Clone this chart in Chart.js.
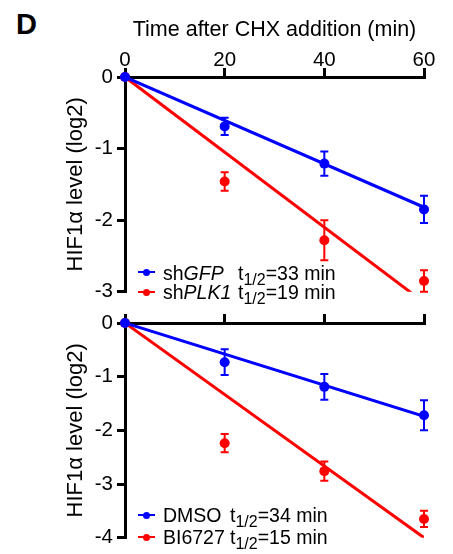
<!DOCTYPE html>
<html>
<head>
<meta charset="utf-8">
<script src="https://cdn.jsdelivr.net/npm/chart.js@4.4.0/dist/chart.umd.min.js"></script>
<style>
  body { margin: 0; background: #fff; }
  #wrap { position: relative; width: 453px; height: 554px; background: #fff; font-family: "Liberation Sans", Arial, sans-serif; color: #000; }
  canvas { position: absolute; left: 0; }
  #panel-label { position: absolute; left: 16px; top: 7px; font-size: 29px; font-weight: bold; line-height: 34px; }
  .leg-row { position: absolute; font-size: 19.5px; line-height: 20px; white-space: nowrap; }
  .leg-row .name { display: inline-block; }
  .leg-row sub { font-size: 16px; vertical-align: -5px; line-height: 0; }
  .mk-line { position: absolute; height: 2px; width: 17px; }
  .mk-dot { position: absolute; width: 7px; height: 7px; border-radius: 50%; }
</style>
</head>
<body>
<div id="wrap">
  <div id="panel-label">D</div>
  <canvas id="chartTop" width="453" height="308" style="top:0"></canvas>
  <canvas id="chartBottom" width="453" height="254" style="top:300px"></canvas>
</div>
<script>
// time points (min)
const times = [0, 20, 40, 60];
const xTicks = [0, 20, 40, 60];
const yTicksTop = [-3, -2, -1, 0];
const yTicksBottom = [-4, -3, -2, -1, 0];

// top panel: shGFP vs shPLK1
const gfpMean = [0, -0.69, -1.21, -1.85];
const gfpErr = [0, 0.12, 0.17, 0.19];
const plkMean = [0, -1.46, -2.28, -2.85];
const plkErr = [0, 0.13, 0.28, 0.15];
const gfpFit = [0, -1.82];
const plkFit = [0, -3.15];

// bottom panel: DMSO vs BI6727
const dmsoMean = [0, -0.73, -1.19, -1.72];
const dmsoErr = [0, 0.24, 0.24, 0.28];
const biMean = [0, -2.24, -2.76, -3.65];
const biErr = [0, 0.17, 0.18, 0.15];
const dmsoFit = [0, -1.74];
const biFit = [0, -4.0];
const fitTimes = [0, 60];

const BLUE = "#0000ff";
const RED = "#ff0000";
const FONT = "'Liberation Sans', Arial, sans-serif";

// error bars with caps, drawn after the datasets
const errorBars = {
  id: "errorBars",
  afterDatasetsDraw(chart) {
    const { ctx, scales } = chart;
    chart.data.datasets.forEach((ds) => {
      if (!ds.errors) return;
      ctx.save();
      ctx.strokeStyle = ds.backgroundColor;
      ctx.lineWidth = 2;
      ds.data.forEach((pt, i) => {
        const e = ds.errors[i];
        if (!e) return;
        const x = scales.x.getPixelForValue(pt.x);
        const y1 = scales.y.getPixelForValue(pt.y + e);
        const y2 = scales.y.getPixelForValue(pt.y - e);
        ctx.beginPath();
        ctx.moveTo(x, y1); ctx.lineTo(x, y2);
        ctx.moveTo(x - 4, y1); ctx.lineTo(x + 4, y1);
        ctx.moveTo(x - 4, y2); ctx.lineTo(x + 4, y2);
        ctx.stroke();
      });
      ctx.restore();
    });
  },
};

function pointsSet(vals, errs, color, order) {
  return {
    data: times.map((t, i) => ({ x: t, y: vals[i] })),
    errors: errs,
    showLine: false,
    pointRadius: 5,
    pointBackgroundColor: color,
    backgroundColor: color,
    pointBorderWidth: 0,
    clip: false,
    order: order,
  };
}

function fitSet(vals, color, order) {
  return {
    data: fitTimes.map((t, i) => ({ x: t, y: vals[i] })),
    borderColor: color,
    borderWidth: 3,
    pointRadius: 0,
    order: order,
  };
}

function makeChart(id, datasets, yTicks, opts) {
  return new Chart(document.getElementById(id), {
    type: "line",
    data: { datasets },
    plugins: [errorBars],
    options: {
      responsive: false,
      animation: false,
      devicePixelRatio: 1,
      layout: { padding: { left: 0, right: 29, top: 0, bottom: 15 } },
      plugins: { legend: { display: false }, tooltip: { enabled: false } },
      scales: {
        x: {
          type: "linear",
          position: "top",
          min: 0,
          max: 60,
          afterBuildTicks: (s) => { s.ticks = xTicks.map((v) => ({ value: v })); },
          ticks: {
            display: opts.xLabels,
            autoSkip: false,
            maxRotation: 0,
            color: "#000",
            padding: -5,
            font: { family: FONT, size: 20.5 },
            callback: (v) => String(v),
          },
          grid: { drawOnChartArea: false, drawTicks: true, tickLength: 9, lineWidth: 3, color: "#000" },
          border: { display: true, color: "#000", width: 3 },
          title: {
            display: opts.xLabels,
            text: "Time after CHX addition (min)",
            color: "#000",
            font: { family: FONT, size: 21.5 },
            padding: { top: 17, bottom: 0 },
          },
          afterFit: (s) => { s.height = opts.top; },
        },
        y: {
          type: "linear",
          position: "left",
          min: yTicks[0],
          max: yTicks[yTicks.length - 1],
          afterBuildTicks: (s) => { s.ticks = yTicks.map((v) => ({ value: v })); },
          ticks: {
            autoSkip: false,
            color: "#000",
            padding: 4,
            font: { family: FONT, size: 20.5 },
            callback: (v) => String(v),
          },
          grid: { drawOnChartArea: false, drawTicks: true, tickLength: 8, lineWidth: 3, color: "#000" },
          border: { display: true, color: "#000", width: 3 },
          title: {
            display: true,
            text: "HIF1\u03b1 level (log2)",
            color: "#000",
            font: { family: FONT, size: 22 },
            padding: { top: 63, bottom: 0 },
          },
          afterFit: (s) => { s.width = 125; },
        },
      },
    },
  });
}

makeChart("chartTop", [
  pointsSet(gfpMean, gfpErr, BLUE, 0),
  pointsSet(plkMean, plkErr, RED, 1),
  fitSet(gfpFit, BLUE, 2),
  fitSet(plkFit, RED, 3),
], yTicksTop, { xLabels: true, top: 77 });

makeChart("chartBottom", [
  pointsSet(dmsoMean, dmsoErr, BLUE, 0),
  pointsSet(biMean, biErr, RED, 1),
  fitSet(dmsoFit, BLUE, 2),
  fitSet(biFit, RED, 3),
], yTicksBottom, { xLabels: false, top: 23 });

// legends (HTML so that italics and subscripts stay real text)
const legendRows = [
  { color: BLUE, pre: "sh", it: "GFP", half: 33, base: 280, mark: 272.3, col: 75 },
  { color: RED, pre: "sh", it: "PLK1", half: 19, base: 299, mark: 292.3, col: 75 },
  { color: BLUE, pre: "DMSO", it: "", half: 34, base: 521.7, mark: 515, col: 67 },
  { color: RED, pre: "BI6727", it: "", half: 15, base: 544, mark: 537.3, col: 67 },
];
const wrap = document.getElementById("wrap");
legendRows.forEach((r) => {
  const line = document.createElement("div");
  line.className = "mk-line";
  line.style.cssText = `left:138px;top:${r.mark - 1}px;background:${r.color}`;
  const dot = document.createElement("div");
  dot.className = "mk-dot";
  dot.style.cssText = `left:143px;top:${r.mark - 3.5}px;background:${r.color}`;
  const row = document.createElement("div");
  row.className = "leg-row";
  row.style.cssText = `left:163px;top:${r.base - 16.8}px`;
  row.innerHTML = `<span class="name" style="width:${r.col}px">${r.pre}${r.it ? `<i>${r.it}</i>` : ""}</span>t<sub>1/2</sub>=${r.half} min`;
  wrap.append(line, dot, row);
});
</script>
</body>
</html>
